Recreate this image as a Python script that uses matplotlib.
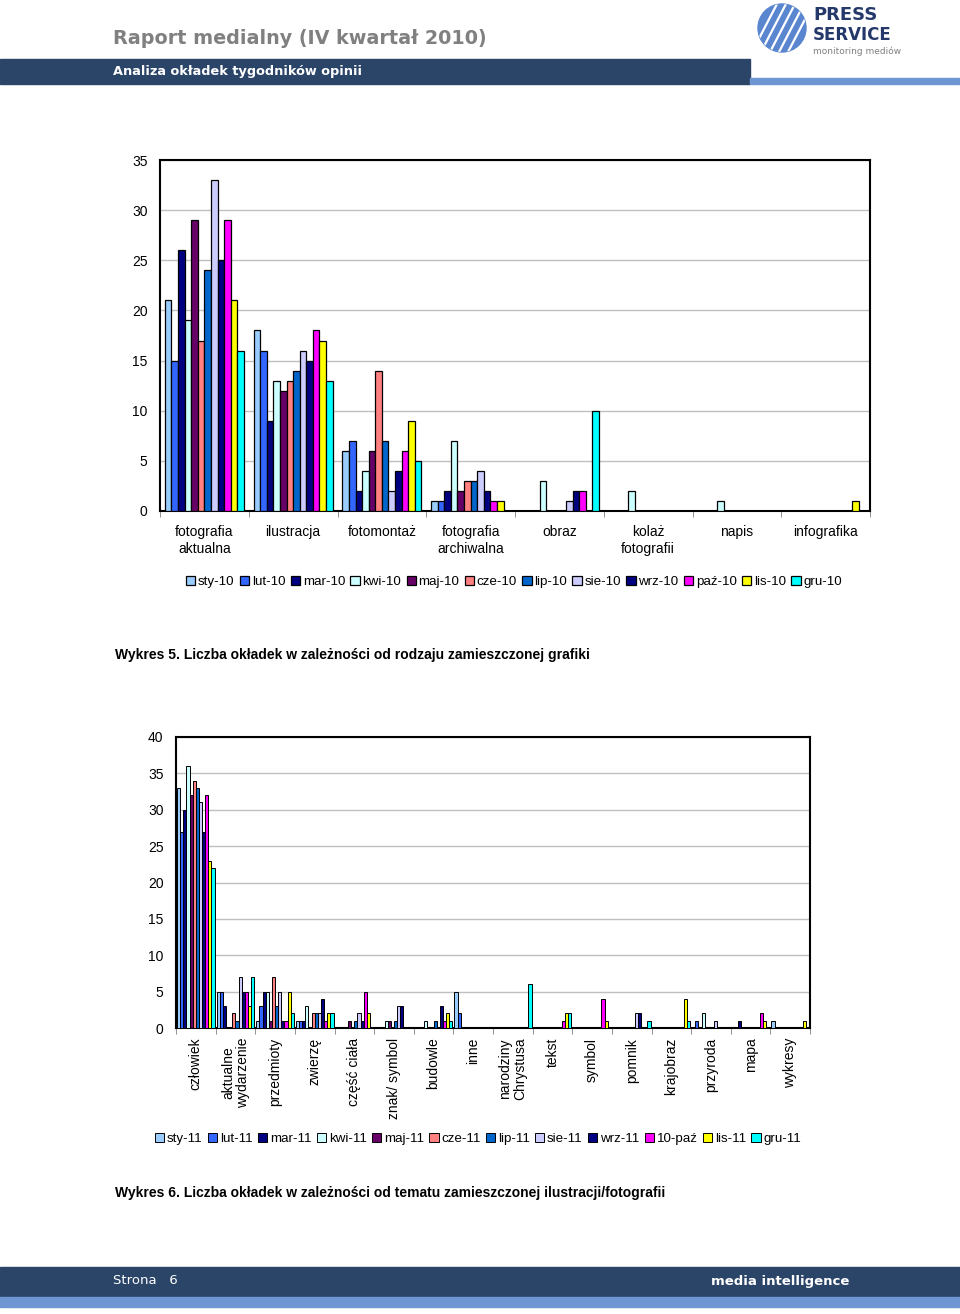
import matplotlib
matplotlib.use("Agg")
import matplotlib.pyplot as plt
from matplotlib.patches import Rectangle, Circle
import numpy as np

plt.rcParams['font.family'] = ['Liberation Sans', 'DejaVu Sans']

# --- dane: wykres 5 (kategorie x miesiace 2010) ---
months_10 = ['sty-10', 'lut-10', 'mar-10', 'kwi-10', 'maj-10', 'cze-10',
             'lip-10', 'sie-10', 'wrz-10', 'paź-10', 'lis-10', 'gru-10']
cats_5 = ['fotografia\naktualna', 'ilustracja', 'fotomontaż', 'fotografia\narchiwalna',
          'obraz', 'kolaż\nfotografii', 'napis', 'infografika']
# wiersz = kategoria, kolumny = sty..gru
counts_5 = [
    [21, 15, 26, 19, 29, 17, 24, 33, 25, 29, 21, 16],
    [18, 16, 9, 13, 12, 13, 14, 16, 15, 18, 17, 13],
    [6, 7, 2, 4, 6, 14, 7, 2, 4, 6, 9, 5],
    [1, 1, 2, 7, 2, 3, 3, 4, 2, 1, 1, 0],
    [0, 0, 0, 3, 0, 0, 0, 1, 2, 2, 0, 10],
    [0, 0, 0, 2, 0, 0, 0, 0, 0, 0, 0, 0],
    [0, 0, 0, 1, 0, 0, 0, 0, 0, 0, 0, 0],
    [0, 0, 0, 0, 0, 0, 0, 0, 0, 0, 1, 0],
]

# --- dane: wykres 6 (kategorie x miesiace 2011) ---
months_11 = ['sty-11', 'lut-11', 'mar-11', 'kwi-11', 'maj-11', 'cze-11',
             'lip-11', 'sie-11', 'wrz-11', '10-paź', 'lis-11', 'gru-11']
cats_6 = ['człowiek', 'aktualne\nwydarzenie', 'przedmioty', 'zwierzę', 'część ciała',
          'znak/ symbol', 'budowle', 'inne', 'narodziny\nChrystusa', 'tekst', 'symbol',
          'pomnik', 'krajobraz', 'przyroda', 'mapa', 'wykresy']
counts_6 = [
    [33, 27, 30, 36, 32, 34, 33, 31, 27, 32, 23, 22],
    [5, 5, 3, 0, 0, 2, 1, 7, 5, 5, 3, 7],
    [1, 3, 5, 5, 1, 7, 3, 5, 1, 1, 5, 2],
    [1, 1, 1, 3, 0, 2, 2, 2, 4, 1, 2, 2],
    [0, 0, 0, 0, 1, 0, 1, 2, 1, 5, 2, 0],
    [0, 0, 0, 1, 1, 0, 1, 3, 3, 0, 0, 0],
    [0, 0, 0, 1, 0, 0, 1, 0, 3, 1, 2, 1],
    [5, 2, 0, 0, 0, 0, 0, 0, 0, 0, 0, 0],
    [0, 0, 0, 0, 0, 0, 0, 0, 0, 0, 0, 6],
    [0, 0, 0, 0, 0, 0, 0, 0, 0, 1, 2, 2],
    [0, 0, 0, 0, 0, 0, 0, 0, 0, 4, 1, 0],
    [0, 0, 0, 0, 0, 0, 0, 2, 2, 0, 0, 1],
    [0, 0, 0, 0, 0, 0, 0, 0, 0, 0, 4, 1],
    [0, 1, 0, 2, 0, 0, 0, 1, 0, 0, 0, 0],
    [0, 0, 1, 0, 0, 0, 0, 0, 0, 2, 1, 0],
    [1, 0, 0, 0, 0, 0, 0, 0, 0, 0, 1, 0],
]

palette = ['#99CCFF', '#3366FF', '#000080', '#CCFFFF', '#660066', '#FF8080',
           '#0066CC', '#CCCCFF', '#000080', '#FF00FF', '#FFFF00', '#00FFFF']

NAVY = '#2B4569'
LIGHT = '#6E96D2'

fig = plt.figure(figsize=(9.6, 13.14), dpi=100)

# tlo strony w pikselach
bg = fig.add_axes([0, 0, 1, 1], zorder=-5)
bg.set_xlim(0, 960)
bg.set_ylim(1314, 0)
bg.axis('off')

bg.text(113, 38, 'Raport medialny (IV kwartał 2010)', fontsize=13.8, fontweight='bold',
        color='#808080', va='center', ha='left', family='DejaVu Sans')
bg.add_patch(Rectangle((0, 59), 750, 25, color=NAVY))
bg.add_patch(Rectangle((750, 78), 210, 6, color=LIGHT))
bg.text(113, 71.5, 'Analiza okładek tygodników opinii', fontsize=9.3, fontweight='bold',
        color='white', va='center', ha='left', family='DejaVu Sans')

# logo
logo = Circle((782, 28), 24, color='#5A86D0')
bg.add_patch(logo)
for k in range(5):
    ln, = bg.plot([752 + k * 9, 778 + k * 9], [52, 2], color='white', lw=1.6)
    ln.set_clip_path(logo)
bg.text(813, 15, 'PRESS', fontsize=13, fontweight='bold', color='#24386A',
        va='center', ha='left', family='DejaVu Sans')
bg.text(813, 35, 'SERVICE', fontsize=12, fontweight='bold', color='#24386A',
        va='center', ha='left', family='DejaVu Sans')
bg.text(813, 51, 'monitoring mediów', fontsize=6.5, color='#808080',
        va='center', ha='left', family='DejaVu Sans')

# stopka
bg.add_patch(Rectangle((0, 1267), 960, 30, color=NAVY))
bg.add_patch(Rectangle((0, 1297), 960, 10, color=LIGHT))
bg.text(113, 1281, 'Strona   6', fontsize=9.5, color='white', va='center', ha='left',
        family='DejaVu Sans')
bg.text(849, 1282, 'media intelligence', fontsize=9.5, fontweight='bold', color='white',
        va='center', ha='right', family='DejaVu Sans')

bg.text(115, 655, 'Wykres 5. Liczba okładek w zależności od rodzaju zamieszczonej grafiki',
        fontsize=10, fontweight='bold', va='center', ha='left')
bg.text(115, 1193, 'Wykres 6. Liczba okładek w zależności od tematu zamieszczonej ilustracji/fotografii',
        fontsize=10, fontweight='bold', va='center', ha='left')


def grouped(ax, cats, rows, labels, ymax, fill, lw):
    data = np.array(rows)
    n = data.shape[1]
    x = np.arange(len(cats))
    w = fill / n
    for j in range(n):
        ax.bar(x - fill / 2 + (j + 0.5) * w, data[:, j], width=w, color=palette[j],
               edgecolor='black', linewidth=lw, label=labels[j], zorder=3)
    ax.set_xlim(-0.5, len(cats) - 0.5)
    ax.set_ylim(0, ymax)
    ax.set_yticks(np.arange(0, ymax + 1, 5))
    ax.yaxis.grid(True, color='#C0C0C0', linewidth=1)
    ax.set_axisbelow(True)
    for s in ax.spines.values():
        s.set_linewidth(1.5)
        s.set_color('black')
    ax.tick_params(axis='y', length=0, pad=9, labelsize=10)
    ax.set_xticks(x)
    ax.set_xticks(np.arange(-0.5, len(cats) + 0.5, 1), minor=True)
    ax.tick_params(axis='x', which='major', length=0, labelsize=10)
    ax.tick_params(axis='x', which='minor', length=4, color='#808080')
    return ax


leg_kw = dict(ncol=12, frameon=False, fontsize=9.6, handlelength=0.7, handleheight=0.7,
              handletextpad=0.2, columnspacing=0.4, borderpad=0)

ax1 = fig.add_axes([160 / 960, 1 - 511 / 1314, 710 / 960, 351 / 1314])
grouped(ax1, cats_5, counts_5, months_10, 35, 0.89, 0.9)
ax1.set_xticklabels(cats_5, linespacing=1.25)
ax1.tick_params(axis='x', which='major', pad=10)
ax1.legend(loc='center', bbox_to_anchor=(514 / 960, 1 - 582 / 1314),
           bbox_transform=fig.transFigure, **leg_kw)

ax2 = fig.add_axes([176 / 960, 1 - 1028 / 1314, 634 / 960, 291 / 1314])
grouped(ax2, cats_6, counts_6, months_11, 40, 0.95, 0.7)
ax2.set_xticklabels(cats_6, rotation=90, va='top', ha='center', multialignment='center',
                    linespacing=1.1)
ax2.tick_params(axis='x', which='major', pad=7)
ax2.legend(loc='center', bbox_to_anchor=(478 / 960, 1 - 1139 / 1314),
           bbox_transform=fig.transFigure, **leg_kw)

fig.savefig('out.png', dpi=100)
